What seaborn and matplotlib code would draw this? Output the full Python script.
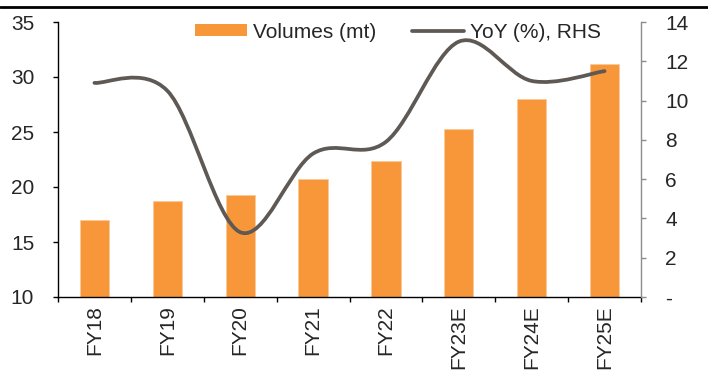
import matplotlib
matplotlib.use("Agg")
import matplotlib.pyplot as plt
from matplotlib.path import Path
from matplotlib.patches import PathPatch, Patch
from matplotlib.lines import Line2D
from matplotlib.ticker import FixedLocator, FuncFormatter
import seaborn as sns
import pandas as pd

# Data
categories = ["FY18", "FY19", "FY20", "FY21", "FY22", "FY23E", "FY24E", "FY25E"]
volumes = [17.0, 18.7, 19.3, 20.7, 22.4, 25.3, 28.0, 31.2]
yoy = [10.9, 10.5, 3.3, 7.3, 7.9, 13.0, 11.0, 11.5]
left_ticks = [10, 15, 20, 25, 30, 35]
right_ticks = [0, 2, 4, 6, 8, 10, 12, 14]

BAR = "#F7973A"
LINE = "#5E5955"
GREY = "#8C8C8C"

sns.set_theme(style="white")
plt.rcParams["font.family"] = ["Liberation Sans", "DejaVu Sans"]
FS = 15

fig = plt.figure(figsize=(7.08, 3.72), dpi=100)
ax = fig.add_axes([58 / 708, 1 - 297 / 372, (641 - 58) / 708, (297 - 22) / 372])

df = pd.DataFrame({"period": categories, "volume": volumes})
sns.barplot(data=df, x="period", y="volume", color=BAR, saturation=1,
            width=0.4, ax=ax, edgecolor="#FBC99A", linewidth=0.6)

ax.set_xlim(-0.5, len(categories) - 0.5)
ax.set_ylim(10, 35)
ax.set_yticks(left_ticks)
ax.set_xlabel("")
ax.set_ylabel("")

for side in ("top", "right"):
    ax.spines[side].set_visible(False)
for side in ("left", "bottom"):
    ax.spines[side].set_color("black")
    ax.spines[side].set_linewidth(1.0)

ax.tick_params(axis="y", which="major", direction="out", length=3.6, width=1,
               color="black", labelsize=FS, pad=13.5, left=True)
ax.set_xticks(range(len(categories)))
ax.set_xticklabels(categories, rotation=90, fontsize=FS)
ax.tick_params(axis="x", which="major", length=0, pad=6, bottom=True)
ax.xaxis.set_minor_locator(FixedLocator([i - 0.5 for i in range(len(categories) + 1)]))
ax.tick_params(axis="x", which="minor", direction="out", length=3.6, width=1,
               color="black", bottom=True)

# Right-hand axis: smoothed YoY line
ax2 = ax.twinx()
ax2.set_ylim(0, 14)
ax2.set_yticks(right_ticks)
ax2.yaxis.set_major_formatter(FuncFormatter(lambda v, p: "-" if v == 0 else f"{v:.0f}"))
for side in ("top", "left", "bottom"):
    ax2.spines[side].set_visible(False)
ax2.spines["right"].set_color(GREY)
ax2.spines["right"].set_linewidth(1.0)
ax2.tick_params(axis="y", direction="out", length=3.6, width=1, color=GREY,
                labelsize=FS, pad=14, right=True)

pts = list(zip(range(len(yoy)), yoy))
verts = [pts[0]]
codes = [Path.MOVETO]
n = len(pts)
for i in range(n - 1):
    p0 = pts[max(i - 1, 0)]
    p1 = pts[i]
    p2 = pts[i + 1]
    p3 = pts[min(i + 2, n - 1)]
    c1 = (p1[0] + (p2[0] - p0[0]) / 6, p1[1] + (p2[1] - p0[1]) / 6)
    c2 = (p2[0] - (p3[0] - p1[0]) / 6, p2[1] - (p3[1] - p1[1]) / 6)
    verts += [c1, c2, p2]
    codes += [Path.CURVE4] * 3
ax2.add_patch(PathPatch(Path(verts, codes), facecolor="none", edgecolor=LINE,
                        linewidth=2.7, capstyle="round", joinstyle="round"))

handles = [Patch(facecolor=BAR, edgecolor="none"),
           Line2D([], [], color=LINE, linewidth=2.7)]
fig.legend(handles, ["Volumes (mt)", "YoY (%), RHS"], loc="center left",
           bbox_to_anchor=(195 / 708, 1 - 32 / 372), ncol=2, frameon=False,
           fontsize=FS, handlelength=2.5, handleheight=0.5, handletextpad=0.3,
           columnspacing=1.7, borderpad=0, borderaxespad=0)

# Rule across the top edge
fig.add_artist(Line2D([0, 1], [1 - 6.5 / 372, 1 - 6.5 / 372], color="black",
                      linewidth=2.0, transform=fig.transFigure))

fig.savefig("out.png", dpi=100)
